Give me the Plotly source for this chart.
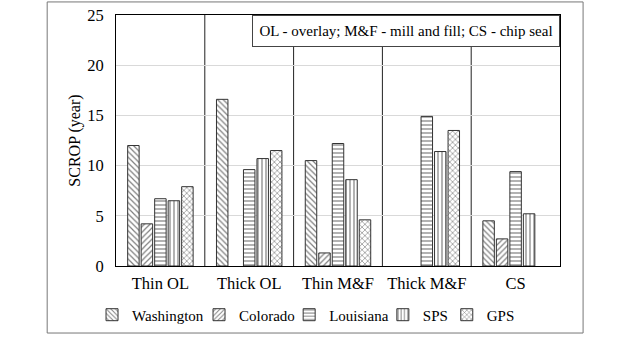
import plotly.graph_objects as go

# Treatment groups on the x axis
categories = ["Thin OL", "Thick OL", "Thin M&F", "Thick M&F", "CS"]

# SCROP (year) by data source
washington = [12.0, 16.6, 10.5, None, 4.5]
colorado = [4.2, None, 1.3, None, 2.7]
louisiana = [6.7, 9.6, 12.2, 14.9, 9.4]
sps = [6.5, 10.7, 8.6, 11.4, 5.2]
gps = [7.9, 11.5, 4.6, 13.5, None]

y_ticks = [0, 5, 10, 15, 20, 25]

series = [
    ("Washington", washington, "\\"),
    ("Colorado", colorado, "/"),
    ("Louisiana", louisiana, "-"),
    ("SPS", sps, "|"),
    ("GPS", gps, "x"),
]

FONT = "Liberation Serif"

# Left edges of the legend entries along the bottom row (paper fraction)
legend_x = [-0.054, 0.187, 0.390, 0.601, 0.745]
legend_y = -0.195

fig = go.Figure()
for i, (name, vals, shape) in enumerate(series):
    lg = "legend" if i == 0 else f"legend{i + 1}"
    fig.add_trace(go.Bar(
        name=name,
        x=categories,
        y=vals,
        legend=lg,
        marker=dict(
            color="white",
            line=dict(color="#333", width=1),
            pattern=dict(shape=shape, fgcolor="black", bgcolor="white",
                         size=4, solidity=0.3),
        ),
    ))

# Vertical separators between treatment groups
shapes = []
for i in range(len(categories) - 1):
    shapes.append(dict(type="line", xref="x", yref="paper",
                       x0=i + 0.5, x1=i + 0.5, y0=0, y1=1,
                       line=dict(color="#222", width=1), layer="below"))
# Outer chart frame
shapes.append(dict(type="rect", xref="paper", yref="paper",
                   x0=-0.155, x1=1.052, y0=-0.267, y1=1.052,
                   line=dict(color="#777", width=1)))

legend_layouts = {}
for i, lx in enumerate(legend_x):
    key = "legend" if i == 0 else f"legend{i + 1}"
    legend_layouts[key] = dict(
        orientation="h", x=lx, xanchor="left", y=legend_y,
        yanchor="middle", font=dict(family=FONT, size=15),
        itemwidth=30, bgcolor="rgba(0,0,0,0)", borderwidth=0,
    )

fig.update_layout(
    width=624, height=337,
    margin=dict(l=116, r=64, t=15, b=71, autoexpand=False),
    paper_bgcolor="white", plot_bgcolor="white",
    font=dict(family=FONT, size=16, color="black"),
    barmode="group", bargap=0.24, bargroupgap=0.15,
    showlegend=True,
    xaxis=dict(range=[-0.5, 4.5], showline=True, linecolor="black",
               linewidth=1, mirror=True, ticks="", showgrid=False,
               ticklabelstandoff=2,
               tickfont=dict(family=FONT, size=16.5)),
    yaxis=dict(range=[0, 25], tickvals=y_ticks, showline=True,
               linecolor="black", linewidth=1, mirror=True,
               showgrid=True, gridcolor="#d9d9d9", gridwidth=1,
               zeroline=False, ticks="", ticklen=0,
               ticklabelstandoff=8,
               title=dict(text="SCROP (year)", standoff=2,
                          font=dict(family=FONT, size=16)),
               tickfont=dict(family=FONT, size=16.5)),
    shapes=shapes,
    annotations=[dict(
        text="OL - overlay; M&F - mill and fill; CS - chip seal",
        xref="paper", yref="paper", x=1, y=1,
        xanchor="right", yanchor="top", showarrow=False,
        font=dict(family=FONT, size=15),
        bgcolor="white", bordercolor="#444", borderwidth=1,
        borderpad=5, width=296, height=20,
    )],
    **legend_layouts,
)

fig.write_html("out.html")
